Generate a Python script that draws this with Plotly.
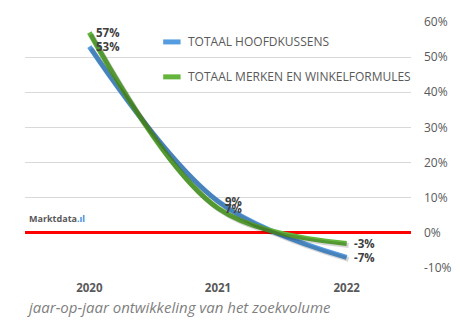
import plotly.graph_objects as go

# Year-over-year change in search volume
years = ["2020", "2021", "2022"]
hoofdkussens = [53, 9, -7]
merken = [57, 7, -3]
series_names = ["TOTAAL HOOFDKUSSENS", "TOTAAL MERKEN EN WINKELFORMULES"]
y_ticks = [-10, 0, 10, 20, 30, 40, 50, 60]
y_tick_labels = ["-10%", "0%", "10%", "20%", "30%", "40%", "50%", "60%"]
caption = "jaar-op-jaar ontwikkeling van het zoekvolume"

BLUE = "#559BDF"
GREEN = "#63B53C"
TEXT = "#595959"

W, H = 464, 327
M = dict(l=25, r=46, t=22, b=59)
plot_w = W - M["l"] - M["r"]
plot_h = H - M["t"] - M["b"]
x_range = [-0.5, 2.5]
y_range = [-10, 60]

# soft drop shadow: same lines on an overlaid axis pair nudged a couple of pixels
sx = 2 * (x_range[1] - x_range[0]) / plot_w
sy = 2 * (y_range[1] - y_range[0]) / plot_h

series = [(series_names[0], hoofdkussens, BLUE), (series_names[1], merken, GREEN)]

fig = go.Figure()

for _, vals, _ in series:
    fig.add_trace(go.Scatter(
        x=years, y=vals, mode="lines", xaxis="x2", yaxis="y2",
        line=dict(color="rgba(0,0,0,0.16)", width=5, shape="spline", smoothing=1),
        showlegend=False, hoverinfo="skip",
    ))

annotations = []
for name, vals, color in series:
    fig.add_trace(go.Scatter(
        x=years, y=vals, name=name, mode="lines",
        line=dict(color=color, width=5, shape="spline", smoothing=1),
        showlegend=False, hoverinfo="skip",
    ))
    # value labels to the right of each point (category index on the x axis)
    for i, v in enumerate(vals):
        annotations.append(dict(
            x=i, y=v, xref="x", yref="y", text=f"{v}%", showarrow=False,
            xanchor="left", yanchor="middle", xshift=6, borderpad=0,
            font=dict(family="Open Sans", size=11.5, color="#404040", weight="bold"),
        ))

# legend: short thick line swatch followed by the series name
shapes = []
legend_rows = [0.919, 0.777]
for (name, _, color), ly in zip(series, legend_rows):
    shapes.append(dict(
        type="line", xref="paper", yref="paper", x0=0.358, x1=0.403, y0=ly, y1=ly,
        line=dict(color=color, width=5),
    ))
    annotations.append(dict(
        text=name, xref="paper", yref="paper", x=0.418, y=ly, xanchor="left",
        yanchor="middle", showarrow=False,
        font=dict(family="Open Sans", size=12, color=TEXT),
    ))

annotations.append(dict(
    text=caption, xref="paper", yref="paper", x=0, y=0, xanchor="left",
    yanchor="top", yshift=-27, showarrow=False,
    font=dict(family="Open Sans", size=15, color="#7F7F7F", style="italic"),
))
annotations.append(dict(
    text="<b>Marktdata</b><b><span style='color:#3A8EDB'>.ıl</span></b>",
    xref="paper", yref="y", x=0.005, y=0, xanchor="left", yanchor="bottom",
    yshift=6, showarrow=False,
    font=dict(family="Open Sans", size=9, color="#595959"),
))

fig.update_layout(
    width=W, height=H, margin=M,
    paper_bgcolor="white", plot_bgcolor="white",
    font=dict(family="Open Sans", color=TEXT, size=11),
    showlegend=False,
    xaxis=dict(
        type="category", range=x_range, showgrid=False, zeroline=False,
        showline=False, ticks="", ticklabelstandoff=11,
        tickfont=dict(family="Open Sans", size=11.5, color=TEXT, weight="bold"),
    ),
    yaxis=dict(
        side="right", range=y_range, tickvals=y_ticks, ticktext=y_tick_labels,
        showgrid=True, gridcolor="#D9D9D9", gridwidth=1,
        zeroline=True, zerolinecolor="#FF0000", zerolinewidth=3,
        showline=False, ticks="", ticklabelstandoff=12,
        tickfont=dict(family="Open Sans", size=12, color=TEXT),
    ),
    xaxis2=dict(type="category", overlaying="x", range=[x_range[0] - sx, x_range[1] - sx],
                visible=False),
    yaxis2=dict(overlaying="y", range=[y_range[0] + sy, y_range[1] + sy], visible=False),
    shapes=shapes,
    annotations=annotations,
)

fig.write_html("out.html")
